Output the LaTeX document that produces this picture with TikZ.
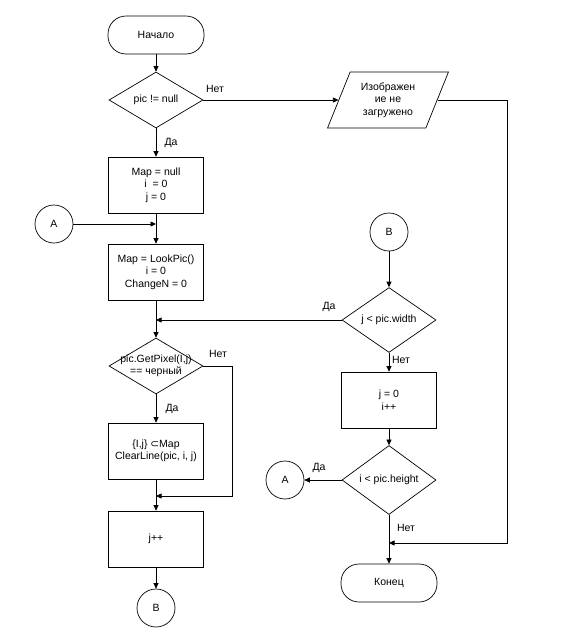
\documentclass[tikz,border=0pt]{standalone}
\usepackage{fontspec}
\setmainfont{Liberation Sans}
\newfontfamily\symfont{DejaVu Sans}
\usetikzlibrary{shapes.geometric,arrows.meta}
\begin{document}
\begin{tikzpicture}[x=1pt,y=-1pt,
  font=\fontsize{10.5}{12.5}\selectfont,
  line width=0.7pt,
  arr/.style={-{Triangle[length=5.5pt,width=5pt]}},
  term/.style={draw,rectangle,rounded corners=18pt,minimum width=96pt,minimum height=38pt,inner sep=0pt},
  proc/.style={draw,rectangle,minimum width=95pt,minimum height=56pt,inner sep=0pt,align=center},
  decis/.style={draw,diamond,minimum width=94pt,minimum height=56pt,inner sep=0pt,align=center},
  conn/.style={draw,circle,minimum size=38pt,inner sep=0pt},
  iobox/.style={draw,trapezium,trapezium left angle=65,trapezium right angle=115,trapezium stretches=true,minimum width=122pt,minimum height=56pt,inner sep=0pt,align=center},
  lbl/.style={inner sep=1pt}]
\useasboundingbox (0,0) rectangle (586,643);
% nodes
\node[term] (start) at (156,35) {Начало};
\node[decis] (d1) at (156,100) {pic != null};
\node[iobox] (io) at (388,100) {Изображен\\ие не\\загружено};
\node[proc] (b1) at (156,185) {Map = null\\i \ = 0\\j = 0};
\node[conn] (A1) at (54,224) {A};
\node[proc] (b2) at (156,272) {Map = LookPic()\\i = 0\\ChangeN = 0};
\node[decis,label={[align=center,font=\fontsize{10.5}{12.5}\selectfont]center:pic.GetPixel(I,j)\\== черный}] (d2) at (156,366) {};
\node[proc] (b3) at (156,451) {\{I,j\} {\symfont ⊂}Map\\ClearLine(pic, i, j)};
\node[proc] (b4) at (156,539) {j++};
\node[conn] (B1) at (156,608) {B};
\node[conn] (B2) at (389,232) {B};
\node[decis] (d3) at (389,320) {j < pic.width};
\node[proc] (b5) at (389,400) {j = 0\\i++};
\node[decis] (d4) at (389,480) {i < pic.height};
\node[conn] (A2) at (285,480) {A};
\node[term] (end) at (389,583) {Конец};
% helper coordinates
\coordinate (mA) at (156,224);
\coordinate (mD3) at (156,320);
\coordinate (nR) at (232,496);
\coordinate (mNo) at (156,496);
\coordinate (rt) at (507,543);
\coordinate (mEnd) at (389,543);
% connectors
\draw[arr] (start) -- (d1);
\draw[arr] (d1.east) -- (io.left side);
\draw[arr] (d1.south) -- (b1.north);
\draw[arr] (b1.south) -- (b2.north);
\draw[arr] (A1.east) -- (mA);
\draw[arr] (b2.south) -- (d2.north);
\draw[arr] (d3.west) -- (mD3);
\draw[arr] (d2.south) -- (b3.north);
\draw[arr] (d2.east) -| (nR) -- (mNo);
\draw[arr] (b3.south) -- (b4.north);
\draw[arr] (b4.south) -- (B1.north);
\draw[arr] (B2.south) -- (d3.north);
\draw[arr] (d3.south) -- (b5.north);
\draw[arr] (b5.south) -- (d4.north);
\draw[arr] (d4.west) -- (A2.east);
\draw[arr] (d4.south) -- (end.north);
\draw[arr] (io.right side) -| (rt) -- (mEnd);
% labels
\node[lbl] (l1) at (215,89) {Нет};
\node[lbl] (l2) at (171,143) {Да};
\node[lbl] (l3) at (218,354) {Нет};
\node[lbl] (l4) at (172,409) {Да};
\node[lbl] (l5) at (329,307) {Да};
\node[lbl] (l6) at (401,360) {Нет};
\node[lbl] (l7) at (319,468) {Да};
\node[lbl] (l8) at (406,528) {Нет};
\end{tikzpicture}
\end{document}
